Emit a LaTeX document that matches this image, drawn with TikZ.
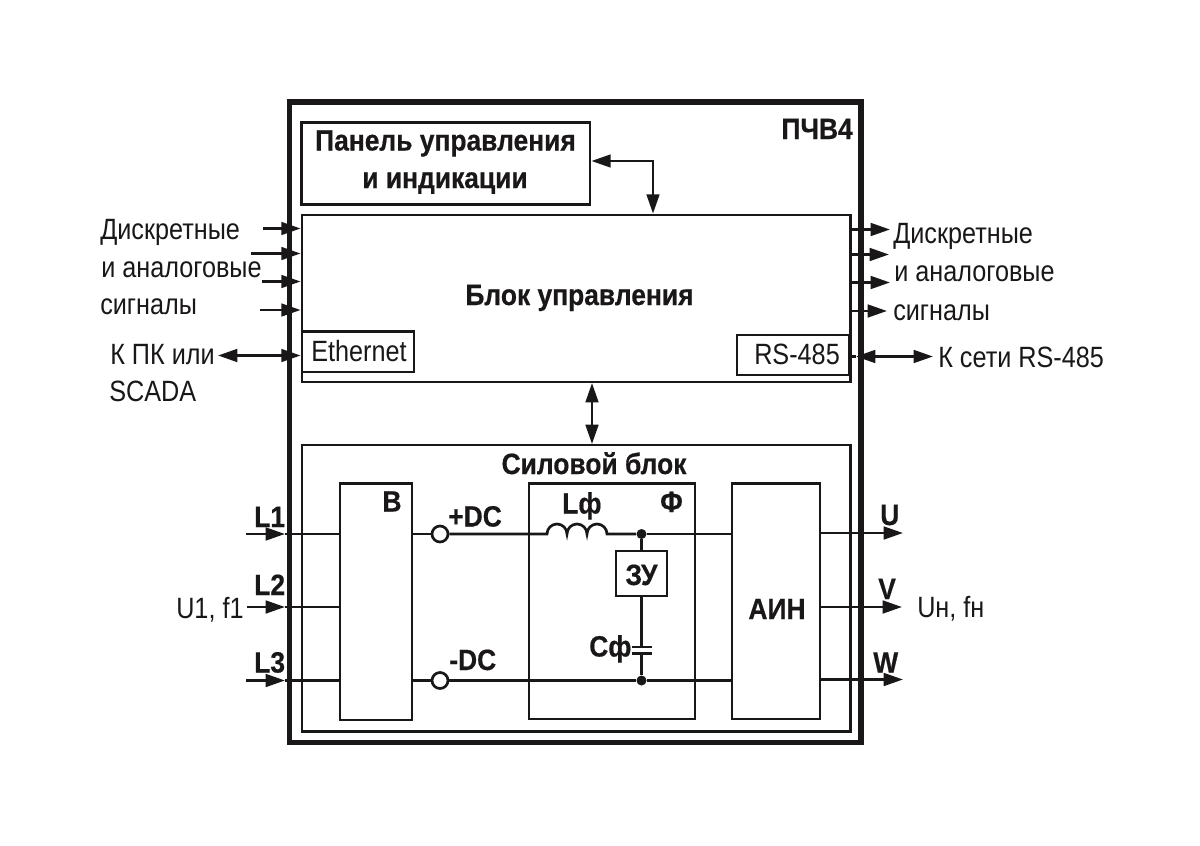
\documentclass[tikz,border=0pt]{standalone}
\usepackage{fontspec}
\setmainfont[FakeStretch=0.86,BoldFeatures={FakeStretch=0.9,FakeBold=0.5}]{Liberation Sans}
\usetikzlibrary{arrows.meta,fit}
\tikzset{
  x=0.75pt,y=-0.75pt,
  boxst/.style={draw=ink,line width=2.1pt,fill=none,inner sep=0pt,rectangle},
  outerbox/.style={boxst,line width=3.9pt},
  wire/.style={draw=ink,line width=2pt},
  arr/.style={wire,-{Triangle[length=14.5pt,width=9.5pt]}},
  darr/.style={wire,{Triangle[length=14.5pt,width=9.5pt]}-{Triangle[length=14.5pt,width=9.5pt]}},
  dot/.style={circle,fill=ink,draw=none,minimum size=7.5pt,inner sep=0pt},
  term/.style={circle,draw=ink,line width=2pt,fill=white,minimum size=12pt,inner sep=0pt},
  reg/.style={text=ink,inner sep=0pt,font=\fontsize{22pt}{26pt}\selectfont},
  bld/.style={text=ink,inner sep=0pt,font=\fontsize{22pt}{26pt}\selectfont\bfseries},
  rw/.style={reg,anchor=base west},
  bw/.style={bld,anchor=base west},
  bc/.style={bld,anchor=base},
}
\definecolor{ink}{HTML}{1A1718}
\begin{document}
\begin{tikzpicture}
\useasboundingbox (0,0) rectangle (1200,846);
\fill[white] (0,0) rectangle (1200,846);
% boxes
\node[outerbox,fit={(289.5,102)(861,742.5)}] (outer) {};
\node[boxst,fit={(301.5,122.5)(590,204.5)}] (panel) {};
\node[boxst,fit={(302,215)(850.5,382)}] (ctrl) {};
\node[boxst,fit={(302,331.5)(414,372)}] (eth) {};
\node[boxst,fit={(737,335)(849,375)}] (rs) {};
\node[boxst,fit={(302,445)(850.5,731.5)}] (power) {};
\node[boxst,fit={(340,483.5)(412,720)}] (vb) {};
\node[boxst,fit={(529,483.5)(695,719)}] (fb) {};
\node[boxst,fit={(732,483.5)(820,719)}] (ain) {};
\node[boxst,fill=white,fit={(616,551)(667,596)}] (zu) {};
% free ends
\coordinate (i1) at (246,534);
\coordinate (i2) at (247,607);
\coordinate (i3) at (246,680.5);
\coordinate (it1) at (285,534);
\coordinate (it2) at (285,607);
\coordinate (it3) at (285,680.5);
\coordinate (o1) at (903,533);
\coordinate (o2) at (902,607);
\coordinate (o3) at (903,679.5);
\coordinate (ls1) at (263,228.5);
\coordinate (ls2) at (251,253.5);
\coordinate (ls3) at (262,281.5);
\coordinate (ls4) at (260,310);
\coordinate (rs1) at (890,229.5);
\coordinate (rs2) at (889,254.5);
\coordinate (rs3) at (890,282.5);
\coordinate (rs4) at (887,311);
\coordinate (pc) at (218,355.5);
\coordinate (net) at (933,356.5);
\coordinate (rsl) at (856,356.5);
\coordinate (pbend) at (653,161);
\coordinate (capa) at (641.5,647);
\coordinate (capb) at (641.5,653.5);
\coordinate (coila) at (547,534);
\coordinate (coilb) at (607,534);
\node[term] (tp) at (440,534) {};
\node[term] (tm) at (440,680.5) {};
\node[dot] (d1) at (641.5,534) {};
\node[dot] (d2) at (641.5,680.5) {};
% connectors
\draw[arr] (ls1) -- (ls1 -| ctrl.west);
\draw[arr] (ls2) -- (ls2 -| ctrl.west);
\draw[arr] (ls3) -- (ls3 -| ctrl.west);
\draw[arr] (ls4) -- (ls4 -| ctrl.west);
\draw[arr] (rs1 -| ctrl.east) -- (rs1);
\draw[arr] (rs2 -| ctrl.east) -- (rs2);
\draw[arr] (rs3 -| ctrl.east) -- (rs3);
\draw[arr] (rs4 -| ctrl.east) -- (rs4);
\draw[darr] (pc) -- (pc -| ctrl.west);
\draw[darr] (rsl) -- (net);
\draw[wire] (rs.east |- rsl) -- (rsl);
\draw[darr] (panel.east |- pbend) -- (pbend) -- (pbend |- ctrl.north);
\draw[darr] (592,383) -- (592,444);
\draw[arr] (i1) -- (it1);
\draw[arr] (i2) -- (it2);
\draw[arr] (i3) -- (it3);
\draw[wire] (it1) -- (it1 -| vb.west);
\draw[wire] (it2) -- (it2 -| vb.west);
\draw[wire] (it3) -- (it3 -| vb.west);
\draw[wire] (tp -| vb.east) -- (tp);
\draw[wire] (tm -| vb.east) -- (tm);
\draw[wire] (tp) -- (coila) arc[start angle=180,end angle=0,radius=7.5pt] arc[start angle=180,end angle=0,radius=7.5pt] arc[start angle=180,end angle=0,radius=7.5pt] -- (coilb) -- (d1);
\draw[wire] (d1) -- (d1 -| ain.west);
\draw[wire] (tm) -- (d2) -- (d2 -| ain.west);
\draw[wire] (d1) -- (zu.north -| d1);
\draw[wire] (zu.south -| d1) -- (capa);
\draw[wire] (capb) -- (d2);
\draw[wire] ([xshift=-7.5pt]capa) -- ([xshift=7.5pt]capa);
\draw[wire] ([xshift=-7.5pt]capb) -- ([xshift=7.5pt]capb);
\draw[arr] (o1 -| ain.east) -- (o1);
\draw[arr] (o2 -| ain.east) -- (o2);
\draw[arr] (o3 -| ain.east) -- (o3);
% labels
\node[bc] (t1) at (445.5,150.5) {Панель управления};
\node[bc] (t2) at (445,188) {и индикации};
\node[bw,anchor=base east] (t3) at (853,139) {ПЧВ4};
\node[bc] (t4) at (579.5,305) {Блок управления};
\node[bc] (t5) at (594,474) {Силовой блок};
\node[rw] (l1) at (100,239) {Дискретные};
\node[rw] (l2) at (101,277) {и аналоговые};
\node[rw] (l3) at (100,314.5) {сигналы};
\node[rw] (l4) at (110,364) {К ПК или};
\node[rw] (l5) at (109,401) {SCADA};
\node[rw] (l6) at (311,361.5) {Ethernet};
\node[rw] (r1) at (893,243.5) {Дискретные};
\node[rw] (r2) at (894,281.5) {и аналоговые};
\node[rw] (r3) at (893,320) {сигналы};
\node[rw] (r4) at (938,367.5) {К сети RS-485};
\node[rw] (r5) at (754,364) {RS-485};
\node[bc] (b1) at (392,511.5) {В};
\node[bc] (b2) at (671.5,512) {Ф};
\node[bc] (b3) at (777,619) {АИН};
\node[bc] (b4) at (641.5,585) {ЗУ};
\node[bw] (b5) at (448,526.5) {+DC};
\node[bw] (b6) at (449,670) {-DC};
\node[bw] (b7) at (254,527) {L1};
\node[bw] (b8) at (254,595) {L2};
\node[bw] (b9) at (254,672.5) {L3};
\node[bw] (b10) at (562,513.5) {Lф};
\node[bw] (b11) at (589,656.5) {Cф};
\node[bw] (b12) at (880,525) {U};
\node[bw] (b13) at (878,599) {V};
\node[bw] (b14) at (873,672.5) {W};
\node[rw] (o4) at (917,617.5) {Uн, fн};
\node[rw] (i4) at (176,618) {U1, f1};
\end{tikzpicture}
\end{document}
